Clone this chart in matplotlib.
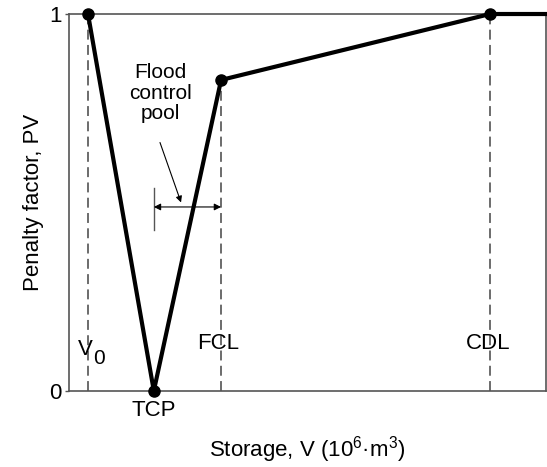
import matplotlib
matplotlib.use("Agg")
import matplotlib.pyplot as plt

plt.rcParams['font.family'] = ['Liberation Sans', 'DejaVu Sans']
plt.rcParams['mathtext.fontset'] = 'custom'
plt.rcParams['mathtext.rm'] = 'Liberation Sans'
plt.rcParams['mathtext.it'] = 'Liberation Sans'

# storage levels (relative units along the x axis) and penalty factor
levels = ["V0", "TCP", "FCL", "CDL", "max"]
storage = [4.0, 17.8, 31.9, 88.3, 100.0]
penalty = [1.0, 0.0, 0.825, 1.0, 1.0]

fig = plt.figure(figsize=(5.47, 4.67), dpi=100)
ax = fig.add_axes([0.126, 0.163, 0.872, 0.807])

gray = "#555555"
# dashed guide lines
for x, top in [(storage[0], penalty[0]), (storage[2], penalty[2]), (storage[3], penalty[3])]:
    ax.plot([x, x], [0, top], ls=(0, (6.5, 3.5)), color="#444444", lw=1.1, zorder=1)

ax.plot(storage, penalty, color="black", lw=3, zorder=3, clip_on=False)
ax.plot(storage[:4], penalty[:4], "o", color="black", ms=8, zorder=4, clip_on=False)

ax.set_xlim(0, 100)
ax.set_ylim(0, 1)
ax.set_xticks([])
ax.set_yticks([0, 1])
ax.set_yticklabels(["0", "1"], fontsize=16)
ax.tick_params(axis="y", length=3, width=1, color=gray, pad=2)
for s in ax.spines.values():
    s.set_color(gray)
    s.set_linewidth(1.2)

fs = 16
# point labels
ax.text(1.9, 0.109, "V", fontsize=fs, ha="left", va="center")
ax.text(5.0, 0.086, "0", fontsize=fs - 1, ha="left", va="center")
ax.text(storage[2] - 5.0, 0.127, "FCL", fontsize=fs, ha="left", va="center")
ax.text(storage[3] - 5.0, 0.127, "CDL", fontsize=fs, ha="left", va="center")
ax.text(storage[1], -0.025, "TCP", fontsize=fs, ha="center", va="top")

# flood control pool annotation
ax.text(19.1, 0.79, "Flood\ncontrol\npool", fontsize=fs - 1, ha="center", va="center",
        linespacing=1.1)
ax.annotate("", xy=(23.7, 0.493), xytext=(18.9, 0.666),
            arrowprops=dict(arrowstyle="-|>", color="black", lw=0.8,
                            mutation_scale=9))
ax.plot([storage[1], storage[1]], [0.427, 0.538], color=gray, lw=1)
ax.annotate("", xy=(storage[1], 0.488), xytext=(storage[2], 0.488),
            arrowprops=dict(arrowstyle="<|-|>", color="black", lw=0.8,
                            mutation_scale=10, shrinkA=0, shrinkB=0))

ax.set_xlabel("Storage, V (10$^{\\mathregular{6}}$·m$^{\\mathregular{3}}$)", fontsize=fs, labelpad=31)
ax.set_ylabel("Penalty factor, PV", fontsize=fs, labelpad=4)

fig.savefig("out.png", dpi=100)
